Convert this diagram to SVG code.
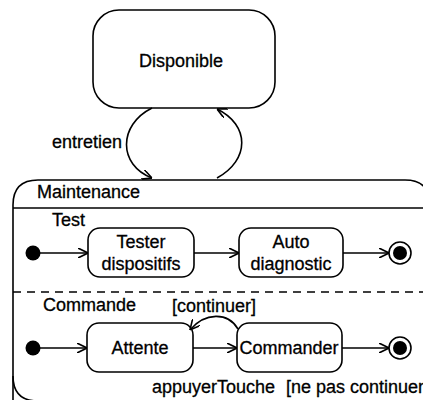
<svg xmlns="http://www.w3.org/2000/svg" width="423" height="400" viewBox="0 0 423 400">
  <style>
    .st { fill: #fff; stroke: #000; stroke-width: 1.6; }
    .ln { fill: none; stroke: #000; stroke-width: 1.6; }
    text { font-family: "Liberation Sans", Arial, sans-serif; font-size: 18px; fill: #000; stroke: #000; stroke-width: 0.3; }
    .c { text-anchor: middle; }
  </style>
  <defs>
    <marker id="arr" viewBox="0 0 10 10" refX="10" refY="5" markerWidth="10" markerHeight="10" markerUnits="userSpaceOnUse" orient="auto">
      <path d="M0,0 L10,5 L0,10" fill="none" stroke="#000" stroke-width="1.6"/>
    </marker>
  </defs>

  <rect width="423" height="400" fill="#fff"/>

  <g id="disponible">
    <rect class="st" x="93" y="10" width="182" height="98" rx="26" ry="26"/>
    <text class="c" x="181" y="67">Disponible</text>
  </g>

  <g id="maintenance">
    <!-- composite state; right and bottom edges run past the frame -->
    <path class="ln" d="M13,410 L13,205 Q13,180 38,180 L405,180 Q430,180 430,205"/>
    <path class="ln" d="M13,376 Q13,401 38,401"/>
    <line class="ln" x1="13" y1="208" x2="423" y2="208"/>
    <text x="37" y="198">Maintenance</text>
    <line x1="13" y1="292" x2="423" y2="292" stroke="#000" stroke-width="1.6" stroke-dasharray="8,6"/>
    <text x="52" y="226">Test</text>
    <text x="43" y="311">Commande</text>
  </g>

  <g id="test-init"><circle cx="33" cy="253" r="7.5" fill="#000"/></g>
  <g id="tester">
    <rect class="st" x="88" y="228" width="106" height="49" rx="12" ry="12"/>
    <text class="c" x="141" y="248">Tester</text>
    <text class="c" x="141" y="270">dispositifs</text>
  </g>
  <g id="auto">
    <rect class="st" x="239" y="228" width="104" height="49" rx="12" ry="12"/>
    <text class="c" x="291" y="248">Auto</text>
    <text class="c" x="291" y="270">diagnostic</text>
  </g>
  <g id="test-final">
    <circle cx="400" cy="253" r="11" fill="#fff" stroke="#000" stroke-width="1.6"/>
    <circle cx="400" cy="253" r="7" fill="#000"/>
  </g>

  <g id="cmd-init"><circle cx="33" cy="348" r="7.5" fill="#000"/></g>
  <g id="attente">
    <rect class="st" x="87" y="323" width="106" height="49" rx="12" ry="12"/>
    <text class="c" x="140" y="354">Attente</text>
  </g>
  <g id="commander">
    <rect class="st" x="237" y="323" width="105" height="49" rx="12" ry="12"/>
    <text class="c" x="289" y="354">Commander</text>
  </g>
  <g id="cmd-final">
    <circle cx="400" cy="348" r="11" fill="#fff" stroke="#000" stroke-width="1.6"/>
    <circle cx="400" cy="348" r="7" fill="#000"/>
  </g>

  <g id="connectors">
    <path class="ln" d="M152,108 C118,125 118,165 152,178" marker-end="url(#arr)"/>
    <path class="ln" d="M217,178 C250,160 250,125 217,109" marker-end="url(#arr)"/>
    <line class="ln" x1="40" y1="253" x2="88" y2="253" marker-end="url(#arr)"/>
    <line class="ln" x1="194" y1="253" x2="239" y2="253" marker-end="url(#arr)"/>
    <line class="ln" x1="343" y1="253" x2="389" y2="253" marker-end="url(#arr)"/>
    <line class="ln" x1="40" y1="348" x2="87" y2="348" marker-end="url(#arr)"/>
    <line class="ln" x1="193" y1="348" x2="237" y2="348" marker-end="url(#arr)"/>
    <line class="ln" x1="342" y1="348" x2="389" y2="348" marker-end="url(#arr)"/>
    <path class="ln" d="M238,329 C228,312 205,312 190,330" marker-end="url(#arr)"/>
    <text x="52" y="148">entretien</text>
    <text x="172" y="312">[continuer]</text>
    <text x="152" y="393">appuyerTouche</text>
    <text x="286" y="393">[ne pas continuer</text>
  </g>
</svg>
